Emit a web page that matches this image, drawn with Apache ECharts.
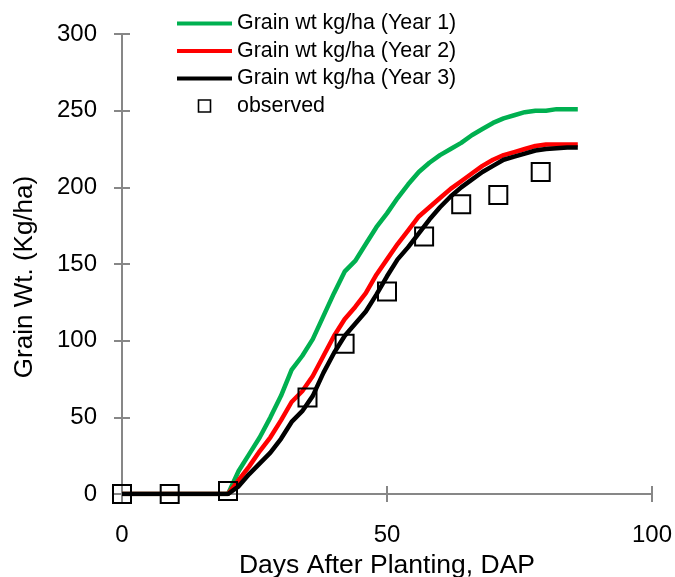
<!DOCTYPE html>
<html>
<head>
<meta charset="utf-8">
<script src="https://cdn.jsdelivr.net/npm/echarts@6/dist/echarts.min.js"></script>
<style>
  html, body { margin: 0; padding: 0; background: #fff; }
  #Charts1 { width: 675px; height: 577px; }
</style>
</head>
<body>
<div id="Charts1"></div>
<script>
// days after planting (simulated curves)
var simDays = [0, 20, 22, 24, 26, 28, 30, 32, 34, 36, 38, 40, 42, 44, 46, 48, 50, 52, 54,
  56, 58, 60, 62, 64, 66, 68, 70, 72, 74, 76, 78, 80, 82, 84, 86];
var year1 = [0, 0, 15, 26, 37, 50, 64, 81, 90, 101, 116, 131, 145, 152, 163, 174, 183, 193, 202,
  210, 216, 221, 225, 229, 234, 238, 242, 245, 247, 249, 250, 250, 251, 251, 251];
var year2 = [0, 0, 9, 18, 28, 37, 48, 60, 67, 77, 90, 103, 114, 122, 131, 143, 153, 163, 172,
  181, 187, 193, 199, 204, 209, 214, 218, 221, 223, 225, 227, 228, 228, 228, 228];
var year3 = [0, 0, 5, 13, 20, 27, 36, 47, 54, 64, 79, 92, 103, 111, 119, 130, 142, 153, 161,
  170, 179, 187, 194, 200, 205, 210, 214, 218, 220, 222, 224, 225, 225.5, 226, 226];
// observed
var obsDays = [0, 9, 20, 35, 42, 50, 57, 64, 71, 79];
var obsWt = [0, 0, 2, 63, 98, 132, 168, 189, 195, 210];

var seriesNames = ['Grain wt kg/ha (Year 1)', 'Grain wt kg/ha (Year 2)', 'Grain wt kg/ha (Year 3)', 'observed'];
var lineColors = ['#00b050', '#ff0000', '#000000'];

function pairs(xs, ys) {
  var out = [];
  for (var i = 0; i < xs.length; i++) out.push([xs[i], ys[i]]);
  return out;
}

var font = 'Liberation Sans, Arial, sans-serif';
var axisGrey = '#878787';
var barIcon = 'path://M0,0L55,0L55,4L0,4Z';     // plain line in legend, no marker
var boxIcon = 'path://M0,0L10,0L10,10L0,10Z';   // hollow square, kept square

var myChart = echarts.init(document.getElementById('Charts1'));
var option = {
  backgroundColor: '#fff',
  animation: false,
  textStyle: { fontFamily: font, color: '#000' },
  grid: { left: 122, right: 23, top: 34, bottom: 83, outerBoundsMode: 'none' },
  legend: {
    orient: 'vertical',
    left: 177,
    top: 13,
    padding: 0,
    itemWidth: 55,
    itemHeight: 12,
    itemGap: 6.5,
    symbolKeepAspect: true,
    textStyle: { fontSize: 21.4, lineHeight: 21, color: '#000', fontFamily: font },
    data: [
      { name: seriesNames[0], icon: barIcon, itemStyle: { color: lineColors[0], borderWidth: 0 } },
      { name: seriesNames[1], icon: barIcon, itemStyle: { color: lineColors[1], borderWidth: 0 } },
      { name: seriesNames[2], icon: barIcon, itemStyle: { color: lineColors[2], borderWidth: 0 } },
      { name: seriesNames[3], icon: boxIcon, itemStyle: { color: 'transparent', borderColor: '#000', borderWidth: 1.6 } }
    ]
  },
  xAxis: [
    { // main axis, ticks outside
      type: 'value', min: 0, max: 100, interval: 50,
      name: 'Days After Planting, DAP', nameLocation: 'middle', nameGap: 57,
      nameTextStyle: { fontSize: 26.5, color: '#000', fontFamily: font },
      axisLine: { show: true, lineStyle: { color: axisGrey, width: 2 } },
      axisTick: { show: true, length: 8, lineStyle: { color: axisGrey, width: 2 } },
      axisLabel: { fontSize: 24, color: '#000', margin: 29, fontFamily: font },
      splitLine: { show: false }
    },
    { // ticks inside, so they cross the line
      type: 'value', min: 0, max: 100, interval: 50, position: 'bottom',
      axisLine: { show: false },
      axisTick: { show: true, inside: true, length: 8, lineStyle: { color: axisGrey, width: 2 } },
      axisLabel: { show: false },
      splitLine: { show: false }
    }
  ],
  yAxis: [
    {
      type: 'value', min: 0, max: 300, interval: 50,
      name: 'Grain Wt. (Kg/ha)', nameLocation: 'middle', nameGap: 84,
      nameTextStyle: { fontSize: 26, color: '#000', fontFamily: font, padding: [0, 26, 0, 0] },
      axisLine: { show: true, lineStyle: { color: axisGrey, width: 2 } },
      axisTick: { show: true, length: 8, lineStyle: { color: axisGrey, width: 2 } },
      axisLabel: { fontSize: 24, color: '#000', margin: 25, fontFamily: font },
      splitLine: { show: false }
    },
    {
      type: 'value', min: 0, max: 300, interval: 50, position: 'left',
      axisLine: { show: false },
      axisTick: { show: true, inside: true, length: 8, lineStyle: { color: axisGrey, width: 2 } },
      axisLabel: { show: false },
      splitLine: { show: false }
    }
  ],
  series: [
    {
      name: seriesNames[0], type: 'line', symbol: 'none',
      data: pairs(simDays, year1),
      lineStyle: { color: lineColors[0], width: 4.5 }, itemStyle: { color: lineColors[0] }
    },
    {
      name: seriesNames[1], type: 'line', symbol: 'none',
      data: pairs(simDays, year2),
      lineStyle: { color: lineColors[1], width: 4.5 }, itemStyle: { color: lineColors[1] }
    },
    {
      name: seriesNames[2], type: 'line', symbol: 'none',
      data: pairs(simDays, year3),
      lineStyle: { color: lineColors[2], width: 4.5 }, itemStyle: { color: lineColors[2] }
    },
    {
      name: seriesNames[3], type: 'scatter', symbol: 'rect', symbolSize: 18,
      data: pairs(obsDays, obsWt),
      itemStyle: { color: 'transparent', borderColor: '#000', borderWidth: 2, opacity: 1 },
      z: 3
    }
  ]
};
myChart.setOption(option);
</script>
</body>
</html>
